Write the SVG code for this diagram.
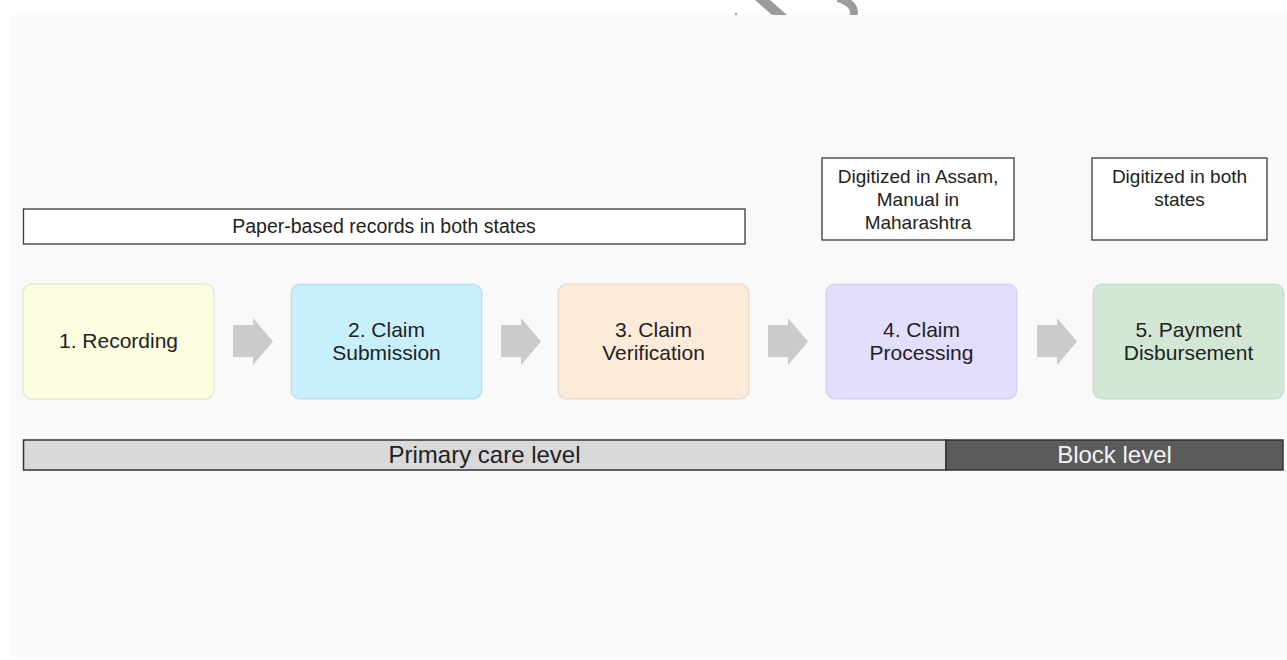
<svg xmlns="http://www.w3.org/2000/svg" width="1287" height="660" viewBox="0 0 1287 660">
<style>
.t{font-family:"Liberation Sans",Arial,sans-serif;fill:#222;text-anchor:middle}
.n{font-size:21px}
.s{font-size:19px}
.node{stroke:#000;stroke-opacity:0.08;stroke-width:1.5}
.note{fill:#fff;stroke:#3a3a3a;stroke-width:1.3}
.arrow{fill:#cbcbcb}
.bar{stroke:#333;stroke-width:1.5}
</style>
<rect x="0" y="0" width="1287" height="660" fill="#fff"/>
<g id="watermark" fill="#9c9c9c">
<polygon points="755,0 770,0 787,15 772,15"/>
<path d="M838 -2 Q858 5 853 16" fill="none" stroke="#9c9c9c" stroke-width="8"/>
<rect x="735" y="13" width="2" height="2"/>
</g>
<rect id="panel" x="10" y="15" width="1277" height="642" fill="#f9f9f9"/>
<g id="note-paper">
<rect class="note" x="23.5" y="209" width="721.5" height="35"/>
<text class="t" x="384" y="233" font-size="19.5">Paper-based records in both states</text>
</g>
<g id="note-assam">
<rect class="note" x="822" y="158" width="192" height="82"/>
<text class="t s" x="918" y="183">Digitized in Assam,</text>
<text class="t s" x="918" y="206">Manual in</text>
<text class="t s" x="918" y="229">Maharashtra</text>
</g>
<g id="note-both">
<rect class="note" x="1092" y="158" width="175" height="82"/>
<text class="t s" x="1179.5" y="183">Digitized in both</text>
<text class="t s" x="1179.5" y="206">states</text>
</g>
<g id="node1">
<rect class="node" x="23" y="284" width="191" height="115" rx="9" fill="#fdfde0"/>
<text class="t n" x="118.5" y="348">1. Recording</text>
</g>
<g id="node2">
<rect class="node" x="291" y="284" width="191" height="115" rx="9" fill="#c8effc"/>
<text class="t n" x="386.5" y="337">2. Claim</text>
<text class="t n" x="386.5" y="360">Submission</text>
</g>
<g id="node3">
<rect class="node" x="558" y="284" width="191" height="115" rx="9" fill="#fdebd9"/>
<text class="t n" x="653.5" y="337">3. Claim</text>
<text class="t n" x="653.5" y="360">Verification</text>
</g>
<g id="node4">
<rect class="node" x="826" y="284" width="191" height="115" rx="9" fill="#e3defd"/>
<text class="t n" x="921.5" y="337">4. Claim</text>
<text class="t n" x="921.5" y="360">Processing</text>
</g>
<g id="node5">
<rect class="node" x="1093" y="284" width="191" height="115" rx="9" fill="#d3e8d4"/>
<text class="t n" x="1188.5" y="337">5. Payment</text>
<text class="t n" x="1188.5" y="360">Disbursement</text>
</g>
<g id="connectors">
<polygon class="arrow" points="233,325 253,325 253,318 273,341.5 253,365 253,357 233,357"/>
<polygon class="arrow" points="501,325 521,325 521,318 541,341.5 521,365 521,357 501,357"/>
<polygon class="arrow" points="768,325 788,325 788,318 808,341.5 788,365 788,357 768,357"/>
<polygon class="arrow" points="1037,325 1057,325 1057,318 1077,341.5 1057,365 1057,357 1037,357"/>
</g>
<g id="bar-primary">
<rect class="bar" x="23.5" y="440" width="922.5" height="30" fill="#d9d9d9"/>
<text class="t" x="484.5" y="463" font-size="24">Primary care level</text>
</g>
<g id="bar-block">
<rect class="bar" x="946" y="440" width="337" height="30" fill="#5b5b5b"/>
<text class="t" x="1114.5" y="463" font-size="24" style="fill:#f2f2f2">Block level</text>
</g>
</svg>
